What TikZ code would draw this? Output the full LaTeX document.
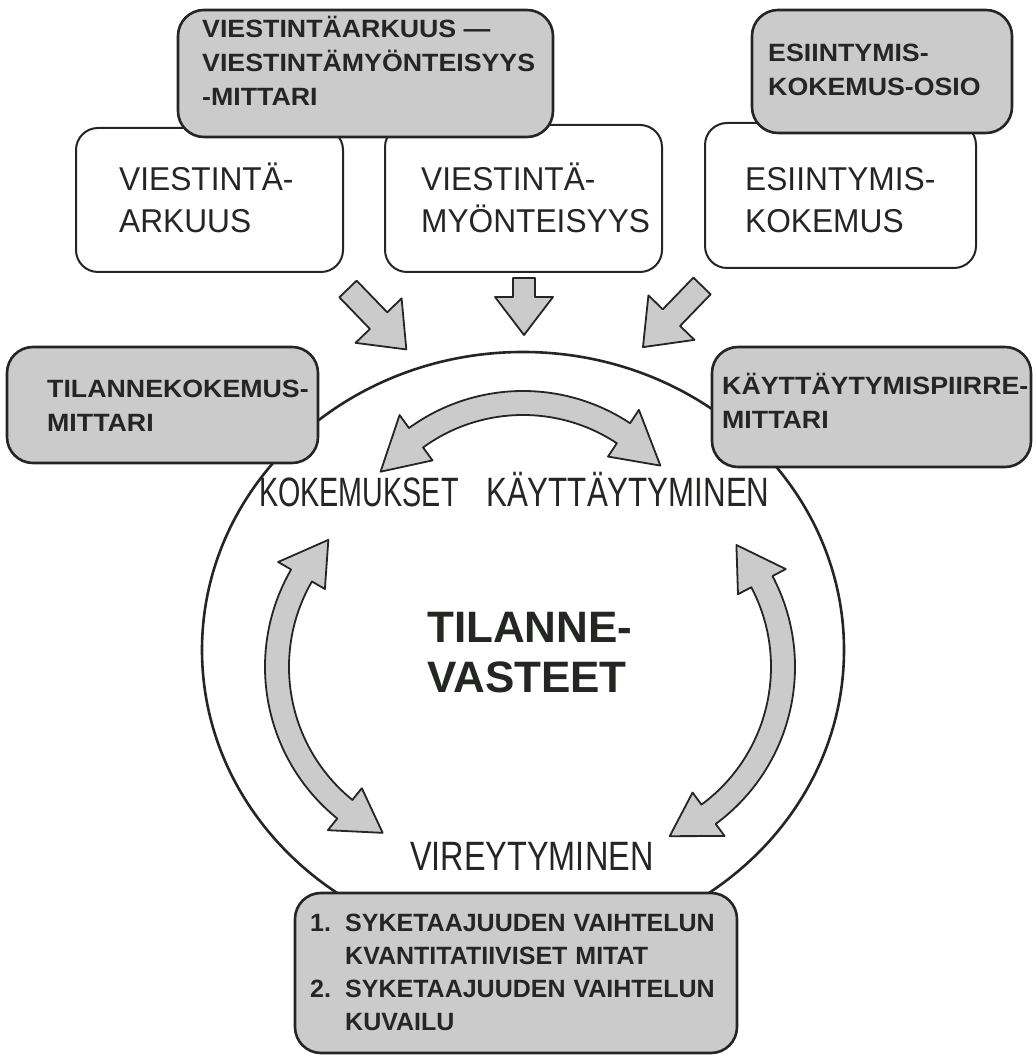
\documentclass[tikz,border=0pt]{standalone}
\usepackage{fontspec}
\setmainfont{Liberation Sans}
\newfontfamily\greyfont[FakeStretch=1.07]{Liberation Sans}
\newfontfamily\whitefont[FakeStretch=0.96]{Liberation Sans}
\newfontfamily\condfont[FakeStretch=0.70]{Liberation Sans}
\definecolor{ink}{RGB}{35,38,35}
\definecolor{shade}{RGB}{203,203,203}
\newcommand{\blockarrow}[7]{% x y angle shaftlen headlen shafthw headhw
  \draw[blockarr, shift={(#1,#2)}, rotate=#3] (0,-#6) -- (#4,-#6) -- (#4,-#7) -- ({#4+#5},0) -- (#4,#7) -- (#4,#6) -- (0,#6) -- cycle;}
\newcommand{\curvedblarrow}[8]{% cx cy R a1 a2 hw HW delta
  \begin{scope}[shift={(#1,#2)}]
  \draw[blockarr] ({#4+#8}:{#3+#6}) arc[start angle={#4+#8}, end angle={#5-#8}, radius={#3+#6}]
    -- ({#5-#8}:{#3+#7}) -- (#5:#3) -- ({#5-#8}:{#3-#7}) -- ({#5-#8}:{#3-#6})
    arc[start angle={#5-#8}, end angle={#4+#8}, radius={#3-#6}]
    -- ({#4+#8}:{#3-#7}) -- (#4:#3) -- ({#4+#8}:{#3+#7}) -- cycle;
  \end{scope}}
\begin{document}
\begin{tikzpicture}[x=1pt, y=1pt, line join=round,
  whitebox/.style={draw=ink, line width=2pt, rounded corners=22pt, fill=white, inner sep=0pt},
  greybox/.style={draw=ink, line width=2.6pt, rounded corners=26pt, fill=shade, inner sep=0pt},
  blockarr/.style={draw=ink, line width=1.8pt, fill=shade},
  wtext/.style={font=\whitefont\fontsize{33}{42}\selectfont, text=ink, inner sep=0pt, anchor=base west},
  gtext/.style={font=\greyfont\bfseries\fontsize{25}{34}\selectfont, text=ink, inner sep=0pt, anchor=base west},
  lbl/.style={font=\condfont\fontsize{41}{41}\selectfont, text=ink, inner sep=0pt, anchor=base west}]
\useasboundingbox (0,0) rectangle (1034,1055);
\fill[white] (0,0) rectangle (1034,1055);

% big circle
\draw[ink, line width=2.6pt] (523,405) ellipse [x radius=321, y radius=298];

% white boxes
\node[whitebox, minimum width=267pt, minimum height=144pt] (A) at (209.5,855) {};
\node[whitebox, minimum width=277pt, minimum height=147pt] (B) at (523.5,856.5) {};
\node[whitebox, minimum width=271pt, minimum height=145pt] (C) at (840.5,859.5) {};
\node[wtext] (tA) at (119,864) {\begin{tabular}[t]{@{}l@{}}VIESTINTÄ-\\ARKUUS\end{tabular}};
\node[wtext] (tB) at (421,864) {\begin{tabular}[t]{@{}l@{}}VIESTINTÄ-\\MYÖNTEISYYS\end{tabular}};
\node[wtext] (tC) at (745,864) {\begin{tabular}[t]{@{}l@{}}ESIINTYMIS-\\KOKEMUS\end{tabular}};

% grey boxes
\node[greybox, minimum width=375pt, minimum height=127pt] (G1) at (365.5,981.5) {};
\node[greybox, minimum width=260pt, minimum height=123pt] (G2) at (882,983.5) {};
\node[greybox, minimum width=311pt, minimum height=116pt] (G3) at (162.5,650) {};
\node[greybox, minimum width=319pt, minimum height=120pt] (G4) at (871.5,648) {};
\node[greybox, minimum width=442pt, minimum height=160pt] (G5) at (516,82) {};

\node[gtext] (tG1) at (202,1017) {\begin{tabular}[t]{@{}l@{}}VIESTINTÄARKUUS —\\VIESTINTÄMYÖNTEISYYS\\-MITTARI\end{tabular}};
\node[gtext] (tG2) at (768,993) {\begin{tabular}[t]{@{}l@{}}ESIINTYMIS-\\KOKEMUS-OSIO\end{tabular}};
\node[gtext] (tG3) at (47,657) {\begin{tabular}[t]{@{}l@{}}TILANNEKOKEMUS-\\MITTARI\end{tabular}};
\node[gtext] (tG4) at (722,660) {\begin{tabular}[t]{@{}l@{}}KÄYTTÄYTYMISPIIRRE-\\MITTARI\end{tabular}};
\node[font=\bfseries\fontsize{25}{33}\selectfont, text=ink, inner sep=0pt, anchor=base west] (tG5) at (310,123)
  {\begin{tabular}[t]{@{}l@{}}\makebox[35pt][l]{1.}SYKETAAJUUDEN\hspace{8pt}VAIHTELUN\\
   \hspace*{35pt}KVANTITATIIVISET\hspace{8pt}MITAT\\
   \makebox[35pt][l]{2.}SYKETAAJUUDEN\hspace{8pt}VAIHTELUN\\
   \hspace*{35pt}KUVAILU\end{tabular}};

% block arrows (top)
\blockarrow{348}{766}{-46}{44}{40}{12}{32}
\blockarrow{524}{777}{-90}{19}{38}{11}{29}
\blockarrow{702}{769}{-134}{44}{41}{12}{32}

% curved double arrows
\curvedblarrow{523}{470}{182}{41}{141.5}{12}{28}{15.5}
\curvedblarrow{460}{388}{183}{136}{245}{12}{27}{14}
\curvedblarrow{600}{388}{183}{-67.6}{41.8}{12}{27}{14}

% labels
\node[lbl] (kok) at (259,548) {KOKEMUKSET};
\node[lbl] (kay) at (486,548) {\scalebox{1.09}[1]{KÄYTTÄYTYMINEN}};
\node[lbl] (vir) at (410,184) {\scalebox{1.13}[1]{VIREYTYMINEN}};
\node[font=\bfseries\fontsize{44}{50}\selectfont, text=ink, inner sep=0pt, anchor=base west] (center) at (427,412)
  {\begin{tabular}[t]{@{}l@{}}TILANNE-\\VASTEET\end{tabular}};
\end{tikzpicture}
\end{document}
